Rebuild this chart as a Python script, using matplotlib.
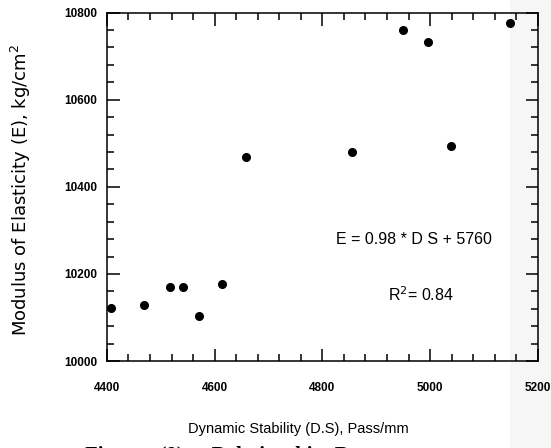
import matplotlib.pyplot as plt
from matplotlib.patches import Rectangle
from matplotlib.ticker import MultipleLocator

plt.rcParams["font.family"] = ["Liberation Sans", "DejaVu Sans"]

# dynamic stability (pass/mm) and modulus of elasticity (kg/cm2)
ds_values = [4407, 4469, 4517, 4541, 4571, 4614, 4659, 4855, 4949, 4996, 5039, 5149]
e_values = [10122, 10128, 10170, 10170, 10103, 10177, 10468, 10481, 10760, 10733, 10494, 10776]

x_ticks = [4400, 4600, 4800, 5000, 5200]
y_ticks = [10000, 10200, 10400, 10600, 10800]


def main() -> None:
    fig = plt.figure(figsize=(5.51, 4.48), dpi=100, facecolor="white")

    # faint scan shading on the right edge, kept behind everything
    bg = fig.add_axes([0, 0, 1, 1], zorder=-1)
    bg.axis("off")
    bg.add_patch(Rectangle((0.925, 0.0), 0.075, 1.0, color="#f6f6f6", lw=0))
    bg.set_xlim(0, 1)
    bg.set_ylim(0, 1)

    ax = fig.add_axes([0.194, 0.194, 0.782, 0.778])
    ax.set_facecolor("none")

    ax.plot(ds_values, e_values, "o", color="black", markersize=5.5, clip_on=False)

    ax.set_xlim(4400, 5200)
    ax.set_ylim(10000, 10800)
    ax.set_xticks(x_ticks)
    ax.set_yticks(y_ticks)
    ax.xaxis.set_minor_locator(MultipleLocator(40))
    ax.yaxis.set_minor_locator(MultipleLocator(40))
    ax.tick_params(which="both", direction="in", top=True, right=True, width=1.1, color="black")
    ax.tick_params(which="major", length=9)
    ax.tick_params(which="minor", length=5)
    ax.tick_params(axis="x", labelsize=8.5, pad=15)
    ax.tick_params(axis="y", labelsize=8.5, pad=7)
    for lab in ax.get_xticklabels() + ax.get_yticklabels():
        lab.set_fontweight("bold")
    for sp in ax.spines.values():
        sp.set_linewidth(1.1)

    ax.set_xlabel("Dynamic Stability (D.S), Pass/mm", fontsize=10.5)
    ax.xaxis.set_label_coords(0.445, -0.175)
    ax.set_ylabel("Modulus of Elasticity (E), kg/cm$^2$", fontsize=13,
                  family="DejaVu Sans")
    ax.yaxis.set_label_coords(-0.172, 0.49)

    ax.text(0.712, 0.35, "E = 0.98 * D S + 5760", transform=ax.transAxes,
            fontsize=11.5, ha="center", va="center")
    ax.text(0.729, 0.19, "R$^2$= 0.84", transform=ax.transAxes,
            fontsize=11.5, ha="center", va="center")

    # caption, cut off at the bottom edge of the scan
    fig.text(0.155, -0.018, "Figure   (9)  -  Relationship  Between", fontsize=15,
             fontweight="bold", family="Liberation Serif", va="center")

    fig.savefig("out.png", dpi=100)
    plt.close(fig)


if __name__ == "__main__":
    main()
